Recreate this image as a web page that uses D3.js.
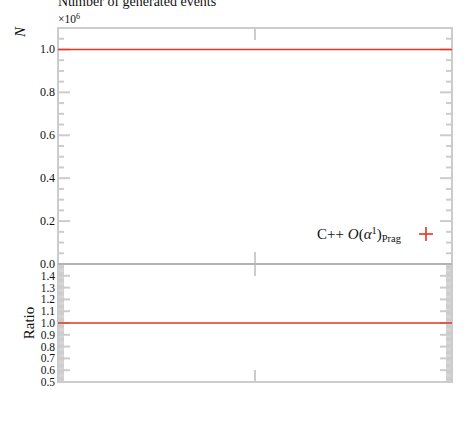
<!DOCTYPE html>
<html><head><meta charset="utf-8">
<script src="https://cdn.jsdelivr.net/npm/d3@7"></script>
<style>
body{margin:0;background:#fff;}
svg text{font-family:"Liberation Serif","DejaVu Serif",serif;fill:#111;}
</style></head>
<body><svg id="c" width="467" height="421"></svg>
<script>
// ---- data ----
const binEdges = [-0.5, 0.5];
const generatedEvents = [1.0e6];
const ratioValues = [1.0];
const xTicks = [0];
const mainYTicks = [0, 0.2, 0.4, 0.6, 0.8, 1.0];
const ratioYTicks = [0.5, 0.6, 0.7, 0.8, 0.9, 1.0, 1.1, 1.2, 1.3, 1.4];
const legendSub = "Prag";
const titleText = "Number of generated events";

const svg = d3.select("#c");
const L = 58, R = 452, T = 28, MB = 264, RB = 382;
const x = d3.scaleLinear().domain([binEdges[0], binEdges[binEdges.length-1]]).range([L, R]);
const yM = d3.scaleLinear().domain([0, 1.1e6]).range([MB, T]);
const yR = d3.scaleLinear().domain([0.5, 1.5]).range([RB, MB]);
const red = "#e8341c";
const tickCol = "#cccccc";

function frame(y0, y1){
  svg.append("rect").attr("x", L).attr("y", y0).attr("width", R-L).attr("height", y1-y0)
    .attr("fill","none").attr("stroke", tickCol).attr("stroke-width", 2);
}
frame(T, MB); frame(MB, RB);

function yTicks(scale, majors, minors, majLen, minLen, fmt, minW, fs){
  const g = svg.append("g");
  minors.forEach(v => {
    const yy = scale(v);
    g.append("line").attr("x1", L).attr("x2", L+minLen).attr("y1", yy).attr("y2", yy).attr("stroke", tickCol).attr("stroke-width", minW);
    g.append("line").attr("x1", R).attr("x2", R-minLen).attr("y1", yy).attr("y2", yy).attr("stroke", tickCol).attr("stroke-width", minW);
  });
  majors.forEach(v => {
    const yy = scale(v);
    g.append("line").attr("x1", L).attr("x2", L+majLen).attr("y1", yy).attr("y2", yy).attr("stroke", tickCol).attr("stroke-width", 2);
    g.append("line").attr("x1", R).attr("x2", R-majLen).attr("y1", yy).attr("y2", yy).attr("stroke", tickCol).attr("stroke-width", 2);
    g.append("text").attr("x", L-3).attr("y", yy+4).attr("text-anchor","end").attr("font-size", fs).text(fmt(v));
  });
}
const mainMinors = d3.range(0, 1.1e6+1, 0.05e6).filter(v => !mainYTicks.some(m => Math.abs(m*1e6 - v) < 1));
yTicks(yM, mainYTicks.map(v=>v*1e6), mainMinors, 12, 6, v => d3.format(".1f")(v/1e6), 2, 12);
const ratioMinors = d3.range(0.5, 1.5001, 0.01).filter(v => Math.abs(v*10 - Math.round(v*10)) > 1e-6);
yTicks(yR, ratioYTicks, ratioMinors, 12, 6, d3.format(".1f"), 1.3, 11.5);

// x ticks
xTicks.forEach(v => {
  const xx = x(v);
  [[T, T+12],[MB-12, MB],[MB, MB+12],[RB-12, RB]].forEach(([a,b]) =>
    svg.append("line").attr("x1", xx).attr("x2", xx).attr("y1", a).attr("y2", b).attr("stroke", tickCol).attr("stroke-width", 2));
});

// boundary line
svg.append("line").attr("x1", L).attr("x2", R).attr("y1", MB).attr("y2", MB).attr("stroke", "#9a9a9a").attr("stroke-width", 1.2);

// histogram steps
const stepLine = d3.line().curve(d3.curveStepAfter);
const mainPts = generatedEvents.map((v,i)=>[x(binEdges[i]), yM(v)]);
mainPts.push([x(binEdges[binEdges.length-1]), yM(generatedEvents[generatedEvents.length-1])]);
svg.append("path").attr("d", stepLine(mainPts)).attr("fill","none").attr("stroke", red).attr("stroke-width", 1.5);
const ratioPts = ratioValues.map((v,i)=>[x(binEdges[i]), yR(v)]);
ratioPts.push([x(binEdges[binEdges.length-1]), yR(ratioValues[ratioValues.length-1])]);
svg.append("path").attr("d", stepLine(ratioPts)).attr("fill","none").attr("stroke", red).attr("stroke-width", 1.5);

// texts
svg.append("text").attr("x", L).attr("y", 6).attr("font-size", 14).text(titleText);
const mult = svg.append("text").attr("x", L).attr("y", 23).attr("font-size", 11.5);
mult.append("tspan").text("×10");
mult.append("tspan").attr("dy", -4).attr("font-size", 8).text("6");
svg.append("text").attr("transform", "translate(25,32) rotate(-90)").attr("text-anchor","middle")
  .attr("font-size", 15).attr("font-style","italic").text("N");
svg.append("text").attr("transform", `translate(34,${(MB+RB)/2}) rotate(-90)`).attr("text-anchor","middle")
  .attr("font-size", 15).text("Ratio");

// legend
const lg = svg.append("text").attr("x", 401).attr("y", 239).attr("text-anchor","end").attr("font-size", 15);
lg.append("tspan").text("C++ ");
lg.append("tspan").attr("font-style","italic").text("O");
lg.append("tspan").text("(");
lg.append("tspan").attr("font-style","italic").text("α");
lg.append("tspan").attr("dy",-5).attr("font-size",10.5).text("1");
lg.append("tspan").attr("dy",5).text(")");
lg.append("tspan").attr("dy",3).attr("font-size",10.5).text(legendSub);
svg.append("line").attr("x1",419).attr("x2",433).attr("y1",234).attr("y2",234).attr("stroke",red).attr("stroke-width",1.6);
svg.append("line").attr("x1",426).attr("x2",426).attr("y1",227).attr("y2",241).attr("stroke",red).attr("stroke-width",1.6);
</script></body></html>
